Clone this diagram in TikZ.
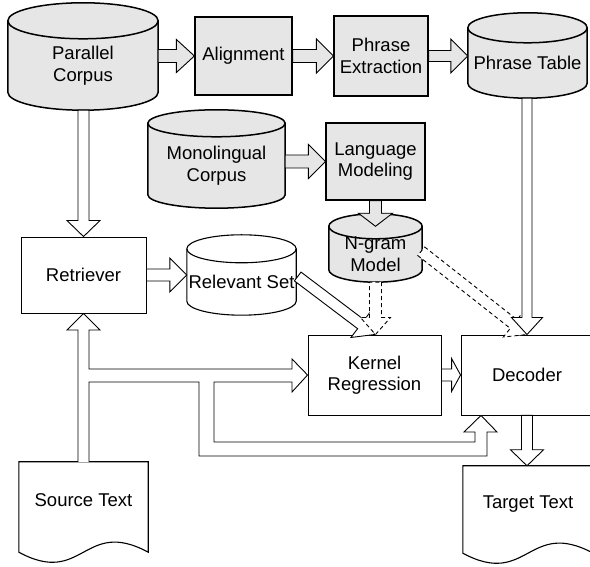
\documentclass[tikz,border=0pt]{standalone}
\usepackage{fontspec}
\setmainfont{Liberation Sans}
\usetikzlibrary{calc,backgrounds}
\definecolor{gfill}{RGB}{230,230,230}
\tikzset{
 lbl/.style={font=\fontsize{18.5pt}{21.5pt}\selectfont, align=center, inner sep=0pt},
 wbox/.style={lbl, draw, line width=0.9pt, fill=white},
 gbox/.style={lbl, draw, line width=1.2pt, fill=gfill},
 body/.style={lbl},
 wshape/.style={draw, line width=1.1pt, fill=white},
 gshape/.style={draw, line width=1.5pt, fill=gfill},
 barr/.style={draw, line width=0.9pt, fill=white, line join=miter},
 garr/.style={fill=gfill},
 darr/.style={dash pattern=on 4pt off 3pt},
}
\newcommand\barrow[6][]{%
  \coordinate (bA) at (#2);
  \coordinate (bB) at (#3);
  \coordinate (bH) at ($(bB)!#6pt!(bA)$);
  \path[barr,#1] ($(bA)!#4pt!90:(bB)$) -- ($(bH)!#4pt!90:(bB)$) -- ($(bH)!#5pt!90:(bB)$) -- (bB) -- ($(bH)!#5pt!-90:(bB)$) -- ($(bH)!#4pt!-90:(bB)$) -- ($(bA)!#4pt!-90:(bB)$) -- cycle;
}
\newcommand\cylshape[3]{%
  \path[#3] let \p1=(#1.north west), \p2=(#1.south east), \n1={(\x2-\x1)/2} in
    (\x1,\y1) -- (\x1,\y2+#2pt) arc[start angle=180, end angle=360, x radius=\n1, y radius={#2pt}]
    -- (\x2,\y1) arc[start angle=0, end angle=180, x radius=\n1, y radius={#2pt}] -- cycle;
  \path[#3, fill=none] let \p1=(#1.north west), \p2=(#1.south east), \n1={(\x2-\x1)/2} in
    (\x1,\y1) arc[start angle=180, end angle=360, x radius=\n1, y radius={#2pt}];
}
\newcommand\docshape[3]{%
  \path[#3] let \p1=(#1.north west), \p2=(#1.south east), \n1={\x2-\x1} in
    (\x1,\y1) -- (\x1,\y2-#2pt) .. controls (\x1+0.5*\n1, \y2-#2pt-35pt) and (\x1+0.5*\n1, \y2-#2pt+35pt) .. (\x2,\y2-#2pt) -- (\x2,\y1) -- cycle;
}
\begin{document}
\begin{tikzpicture}[x=1pt,y=1pt]
\useasboundingbox (0,0) rectangle (590,567);
% cylinder and document bodies
\node[body, minimum width=150pt, minimum height=89pt] (PC) at (83,501.5) {Parallel\\Corpus};
\node[body, minimum width=119pt, minimum height=70pt] (PT) at (527.5,504) {Phrase Table};
\node[body, minimum width=137pt, minimum height=84.5pt] (MC) at (216.5,401.25) {Monolingual\\Corpus};
\node[body, minimum width=93pt, minimum height=55.5pt] (NG) at (375.5,312.75) {N-gram\\Model};
\node[body, minimum width=109pt, minimum height=66pt] (RS) at (241.5,285) {Relevant Set};
\node[body, minimum width=129pt, minimum height=76pt] (ST) at (83.5,67) {Source Text};
\node[body, minimum width=130pt, minimum height=76pt] (TT) at (528,63) {Target Text};
% boxes
\node[gbox, minimum width=97pt, minimum height=78pt] (AL) at (243.5,511) {Alignment};
\node[gbox, minimum width=94pt, minimum height=80pt] (PE) at (381,511) {Phrase\\Extraction};
\node[gbox, minimum width=99pt, minimum height=77pt] (LM) at (375.5,405.5) {Language\\Modeling};
\node[wbox, minimum width=125pt, minimum height=76pt] (RT) at (83.5,292) {Retriever};
\node[wbox, minimum width=133pt, minimum height=80pt] (KR) at (374.5,192) {Kernel\\Regression};
\node[wbox, minimum width=132pt, minimum height=80pt] (DC) at (527,192) {Decoder};
\begin{scope}[on background layer]
\cylshape{PC}{18}{gshape}
\cylshape{PT}{15}{gshape}
\cylshape{MC}{13.5}{gshape}
\cylshape{NG}{12.5}{gshape}
\cylshape{RS}{14}{wshape}
\docshape{ST}{14}{wshape}
\docshape{TT}{11}{wshape}
\end{scope}
% block arrows
\barrow[garr]{PC.east |- AL.west}{AL.west}{6.5}{16.5}{18}
\barrow[garr]{AL.east}{PE.west}{6.5}{17}{17}
\barrow[garr]{PE.east}{PE.east -| PT.west}{5.5}{17}{17}
\barrow[garr]{MC.east |- LM.west}{LM.west}{6.5}{17}{17}
\barrow[garr]{LM.south}{NG.north}{6}{17}{13}
\barrow{PC.south -| RT.north}{RT.north}{5.5}{16.5}{16}
\barrow{RT.east}{RT.east -| RS.west}{6}{17}{17}
\barrow{$(RS.east)+(1.5,5.5)$}{KR.north}{5.5}{16.5}{17}
\barrow[darr]{NG.south}{NG.south |- KR.north}{6}{15}{17}
\barrow[darr]{$(NG.east)+(-1,3)$}{DC.north}{5.5}{16.5}{17}
\barrow{PT.south -| DC.north}{DC.north}{5}{15.5}{17}
\barrow{KR.east}{DC.west}{6}{16.5}{9}
\barrow{DC.south}{DC.south |- TT.north}{5.5}{16.5}{16}
% source text distribution arrows
\path[barr] (78,105) -- (78,237) -- (67,237) -- (RT.south) -- (100,237) -- (89,237)
  -- (89,198) -- (292,198) -- (292,208) -- (KR.west) -- (292,175) -- (292,185)
  -- (214,185) -- (214,125) -- (475,125) -- (475,135) -- (464,135)
  -- ($(DC.south)+(-46,0)$) -- (497,135) -- (487,135) -- (487,111)
  -- (199,111) -- (199,185) -- (89,185) -- (89,105);
\end{tikzpicture}
\end{document}
